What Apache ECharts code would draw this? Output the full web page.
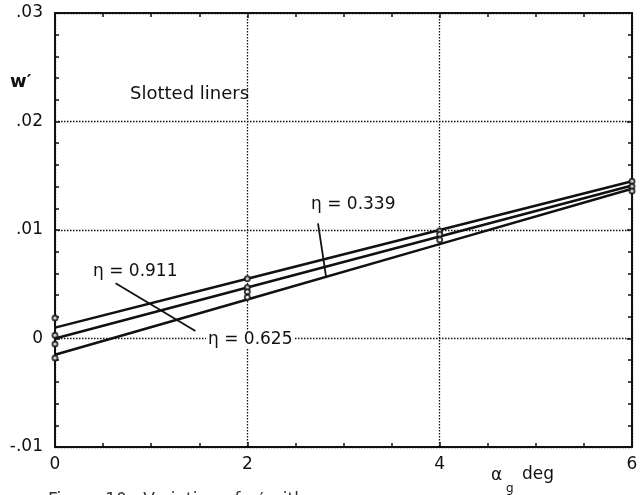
<!DOCTYPE html>
<html>
<head>
<meta charset="utf-8">
<script src="https://cdn.jsdelivr.net/npm/echarts@6/dist/echarts.min.js"></script>
<style>
html, body { margin: 0; padding: 0; background: #fff; }
#main { width: 641px; height: 495px; }
</style>
</head>
<body>
<div id="main"></div>
<script>
//攻角 alpha_g (deg)
var alphaG = [0, 2, 4, 6];
//各 eta 的拟合直线 w'
var w911 = [0.0010, 0.0055, 0.0100, 0.0145];
var w625 = [0.0000, 0.0047, 0.0094, 0.0141];
var w339 = [-0.0015, 0.0036, 0.0087, 0.0138];
//实测点
var ptsX = [0, 0, 0, 0, 2, 2, 2, 2, 4, 4, 4, 6, 6, 6];
var ptsY = [0.0019, 0.0003, -0.0005, -0.0018, 0.0055, 0.0047, 0.0043, 0.0038, 0.0099, 0.0096, 0.0091, 0.0145, 0.0140, 0.0136];
//标注引线 (数据坐标)
var leader911 = [[0.63, 0.0051], [1.46, 0.0007]];
var leader339 = [[2.735, 0.0106], [2.82, 0.0056]];

var FONT = 'DejaVu Sans';
var INK = '#111';

var fmtY = function(v) {
	var n = Math.round(v * 100);
	if(n == 0) return '0';
	return (n < 0 ? '-' : '') + '.0' + Math.abs(n);
};

var toPairs = function(xs, ys) {
	var out = [];
	for(var i = 0; i < xs.length; i++) out.push([xs[i], ys[i]]);
	return out;
};

var lineSeries = function(name, ys) {
	return {
		name: name,
		type: 'line',
		data: toPairs(alphaG, ys),
		showSymbol: false,
		silent: true,
		lineStyle: { color: INK, width: 2.5 },
		z: 3
	};
};

var leaderLine = function(pts) {
	return [{ coord: pts[0] }, { coord: pts[1] }];
};

var txt = function(x, y, text, size, extra) {
	var st = {
		text: text,
		fontSize: size,
		fontFamily: FONT,
		fill: INK,
		verticalAlign: 'middle'
	};
	if(extra) for(var k in extra) st[k] = extra[k];
	return { type: 'text', x: x, y: y, z: 10, style: st };
};

var baseAxis = function(labels) {
	return {
		axisLine: { show: true, onZero: false, lineStyle: { color: INK, width: 2 } },
		axisTick: { show: true, inside: true, length: 5, lineStyle: { color: INK, width: 1.5 } },
		minorTick: { show: true, splitNumber: 4, length: 4, lineStyle: { color: INK, width: 1.5 } },
		splitLine: { show: false },
		axisLabel: { show: labels, fontFamily: FONT, fontSize: 17, color: INK }
	};
};

var gridDots = { show: true, lineStyle: { color: INK, type: [1.5, 1.5], width: 1.3 } };

var xBottom = baseAxis(true);
xBottom.type = 'value'; xBottom.min = 0; xBottom.max = 6; xBottom.interval = 2; xBottom.position = 'bottom';
xBottom.axisLabel.margin = 9;
xBottom.splitLine = gridDots;

var xTop = baseAxis(false);
xTop.type = 'value'; xTop.min = 0; xTop.max = 6; xTop.interval = 2; xTop.position = 'top';

var yLeft = baseAxis(true);
yLeft.type = 'value'; yLeft.min = -0.01; yLeft.max = 0.03; yLeft.interval = 0.01; yLeft.position = 'left';
yLeft.minorTick.splitNumber = 5;
yLeft.axisLabel.margin = 12;
yLeft.axisLabel.formatter = fmtY;
yLeft.splitLine = gridDots;

var yRight = baseAxis(false);
yRight.type = 'value'; yRight.min = -0.01; yRight.max = 0.03; yRight.interval = 0.01; yRight.position = 'right';
yRight.minorTick.splitNumber = 5;

var s911 = lineSeries('eta 0.911', w911);
s911.markLine = {
	silent: true,
	symbol: 'none',
	label: { show: false },
	lineStyle: { color: INK, width: 1.8, type: 'solid' },
	data: [leaderLine(leader911), leaderLine(leader339)]
};

var option = {
	animation: false,
	backgroundColor: '#fff',
	grid: { left: 55, right: 9, top: 13, bottom: 48, containLabel: false, outerBoundsMode: 'none' },
	xAxis: [xBottom, xTop],
	yAxis: [yLeft, yRight],
	series: [
		s911,
		lineSeries('eta 0.625', w625),
		lineSeries('eta 0.339', w339),
		{
			type: 'scatter',
			data: toPairs(ptsX, ptsY),
			symbol: 'emptyCircle',
			symbolSize: 5,
			silent: true,
			itemStyle: { color: INK, borderColor: INK, borderWidth: 1.5 },
			z: 4
		}
	],
	graphic: [
		txt(10, 82, 'w\u2032', 18, { fontWeight: 'bold' }),
		txt(130, 94, 'Slotted liners', 18),
		txt(93, 272, '\u03b7 = 0.911', 17),
		txt(206, 340, '\u03b7 = 0.625', 17, { backgroundColor: '#fff', padding: [0, 2] }),
		txt(311, 205, '\u03b7 = 0.339', 17),
		txt(491, 476, '\u03b1', 17),
		txt(506, 489, 'g', 12),
		txt(522, 475, 'deg', 17),
		txt(48, 501, 'Figure 10   Variation of w\u2032 with \u03b1g', 17, { fill: '#333' })
	]
};

var chart = echarts.init(document.getElementById('main'));
chart.setOption(option);
</script>
</body>
</html>
